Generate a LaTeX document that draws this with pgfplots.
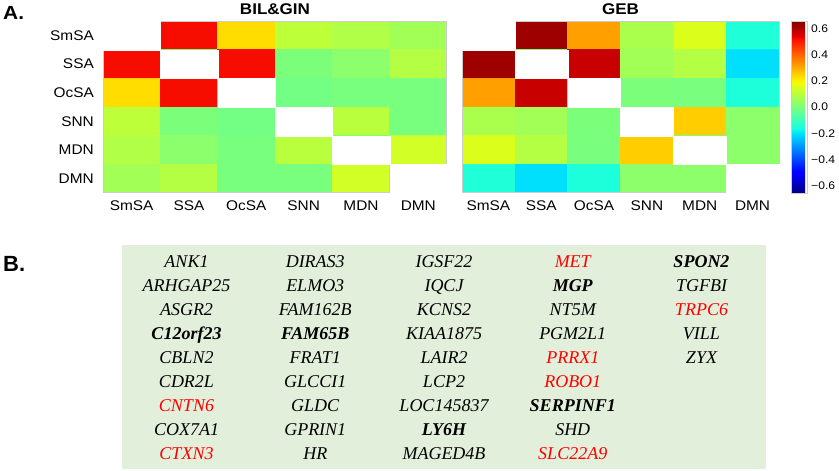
\documentclass[border=0pt]{standalone}
\usepackage{fontspec}
\setmainfont{Liberation Sans}
\newfontfamily\panelfont{Liberation Sans}[FakeStretch=1.1]
\newfontfamily\timesf{Liberation Serif}
\usepackage{pgfplots}
\usepackage{pgfplotstable}
\pgfplotsset{compat=1.18}
\usetikzlibrary{matrix}

\definecolor{boxgreen}{RGB}{226,239,218}
\definecolor{framegray}{RGB}{204,204,204}
\newcommand{\gr}[1]{\textcolor{red}{#1}}
\newcommand{\gb}[1]{\textbf{#1}}

% matplotlib-like jet
\pgfplotsset{colormap={mpljet}{rgb(0pt)=(0,0,0.5); rgb(110pt)=(0,0,1); rgb(125pt)=(0,0,1);
  rgb(340pt)=(0,0.86,1); rgb(350pt)=(0,0.9,0.968); rgb(375pt)=(0.081,1,0.887);
  rgb(640pt)=(0.935,1,0.032); rgb(650pt)=(0.968,0.963,0); rgb(660pt)=(1,0.926,0);
  rgb(890pt)=(1,0.074,0); rgb(910pt)=(0.909,0,0); rgb(1000pt)=(0.5,0,0)}}

% BIL&GIN correlations (diagonal left blank)
\pgfplotstableread{
x y c
0 0 0
1 0 0.52
2 0 0.23
3 0 0.105
4 0 0.085
5 0 0.06
0 1 0.52
1 1 0
2 1 0.52
3 1 0.00
4 1 0.025
5 1 0.09
0 2 0.23
1 2 0.52
2 2 0
3 2 -0.013
4 2 -0.005
5 2 -0.005
0 3 0.105
1 3 0.00
2 3 -0.013
3 3 0
4 3 0.098
5 3 -0.005
0 4 0.085
1 4 0.025
2 4 -0.005
3 4 0.098
4 4 0
5 4 0.136
0 5 0.06
1 5 0.09
2 5 -0.005
3 5 -0.005
4 5 0.136
5 5 0
}\bilgin

% GEB correlations
\pgfplotstableread{
x y c
0 0 0
1 0 0.62
2 0 0.316
3 0 0.075
4 0 0.153
5 0 -0.148
0 1 0.62
1 1 0
2 1 0.573
3 1 0.06
4 1 0.09
5 1 -0.205
0 2 0.316
1 2 0.573
2 2 0
3 2 0.0
4 2 -0.003
5 2 -0.15
0 3 0.075
1 3 0.06
2 3 0.0
3 3 0
4 3 0.253
5 3 0.026
0 4 0.153
1 4 0.09
2 4 -0.003
3 4 0.253
4 4 0
5 4 0.026
0 5 -0.148
1 5 -0.205
2 5 -0.15
3 5 0.026
4 5 0.026
5 5 0
}\geb

\pgfplotsset{heat/.style={
  scale only axis, height=172bp, enlargelimits=false,
  xmin=-0.5, xmax=5.5, ymin=-0.5, ymax=5.5, y dir=reverse,
  xtick={0,...,5}, ytick={0,...,5},
  xticklabels={SmSA,SSA,OcSA,SNN,MDN,DMN},
  major tick length=0pt,
  axis line style={draw=framegray, line width=1bp},
  axis on top,
  colormap name=mpljet,
  point meta min=-0.655, point meta max=0.655,
  tick label style={font=\panelfont\fontsize{14bp}{16bp}\selectfont, inner sep=0pt},
  xticklabel shift=8bp,
  yticklabel shift=9bp,
  every axis title/.style={font=\panelfont\bfseries\fontsize{15.5bp}{16bp}\selectfont,
    at={(0.5,1)}, anchor=south, inner sep=0pt, yshift=6bp},
}}

\begin{document}
\begin{tikzpicture}
\useasboundingbox (0,0) rectangle (839bp,471bp);

\node[anchor=base west, inner sep=0pt, font=\panelfont\bfseries\fontsize{19bp}{20bp}\selectfont] at (3bp,451bp) {A.};
\node[anchor=base west, inner sep=0pt, font=\bfseries\fontsize{22bp}{23bp}\selectfont] at (3bp,199bp) {B.};

\begin{axis}[heat, at={(103bp,278bp)}, anchor=south west, width=344bp,
  yticklabels={SmSA,SSA,OcSA,SNN,MDN,DMN}, title={BIL\&GIN}]
\addplot[matrix plot*, mesh/cols=6, point meta=explicit] table[x=x, y=y, meta=c] {\bilgin};
\addplot[only marks, color=white, mark=square*, mark size=14.33bp,
  mark options={xscale=2.0, fill=white, draw=white, line width=0.1pt}]
  coordinates {(0,0) (1,1) (2,2) (3,3) (4,4) (5,5)};
\end{axis}

\begin{axis}[heat, at={(462bp,278bp)}, anchor=south west, width=317bp,
  yticklabels={}, title={GEB},
  colorbar,
  colorbar style={
    at={(parent axis.north east)}, anchor=north west, xshift=3.5bp,
    scale only axis, width=16bp, height=172bp,
    axis line style={draw=framegray, line width=0.8bp},
    ytick={-0.6,-0.4,-0.2,0,0.2,0.4,0.6},
    yticklabels={−0.6,−0.4,−0.2,0.0,0.2,0.4,0.6},
    major tick length=0pt,
    yticklabel style={font=\panelfont\fontsize{11bp}{13bp}\selectfont, anchor=west, inner sep=0pt},
    yticklabel shift=4bp,
  }]
\addplot[matrix plot*, mesh/cols=6, point meta=explicit] table[x=x, y=y, meta=c] {\geb};
\addplot[only marks, color=white, mark=square*, mark size=14.33bp,
  mark options={xscale=1.843, fill=white, draw=white, line width=0.1pt}]
  coordinates {(0,0) (1,1) (2,2) (3,3) (4,4) (5,5)};
\end{axis}

\fill[boxgreen] (122bp,2bp) rectangle (766bp,226bp);
\matrix[matrix of nodes, anchor=center, inner sep=0pt, row sep=0pt, column sep=0pt,
  nodes={text width=128.75bp, align=center, text height=12bp, text depth=0pt,
    inner xsep=0pt, inner ysep=6bp, font=\timesf\itshape\fontsize{18bp}{20bp}\selectfont}]
  at (444bp,113.5bp) {
ANK1 & DIRAS3 & IGSF22 & \gr{MET} & \gb{SPON2} \\
ARHGAP25 & ELMO3 & IQCJ & \gb{MGP} & TGFBI \\
ASGR2 & FAM162B & KCNS2 & NT5M & \gr{TRPC6} \\
\gb{C12orf23} & \gb{FAM65B} & KIAA1875 & PGM2L1 & VILL \\
CBLN2 & FRAT1 & LAIR2 & \gr{PRRX1} & ZYX \\
CDR2L & GLCCI1 & LCP2 & \gr{ROBO1} & \\
\gr{CNTN6} & GLDC & LOC145837 & \gb{SERPINF1} & \\
COX7A1 & GPRIN1 & \gb{LY6H} & SHD & \\
\gr{CTXN3} & HR & MAGED4B & \gr{SLC22A9} & \\
};
\end{tikzpicture}
\end{document}
